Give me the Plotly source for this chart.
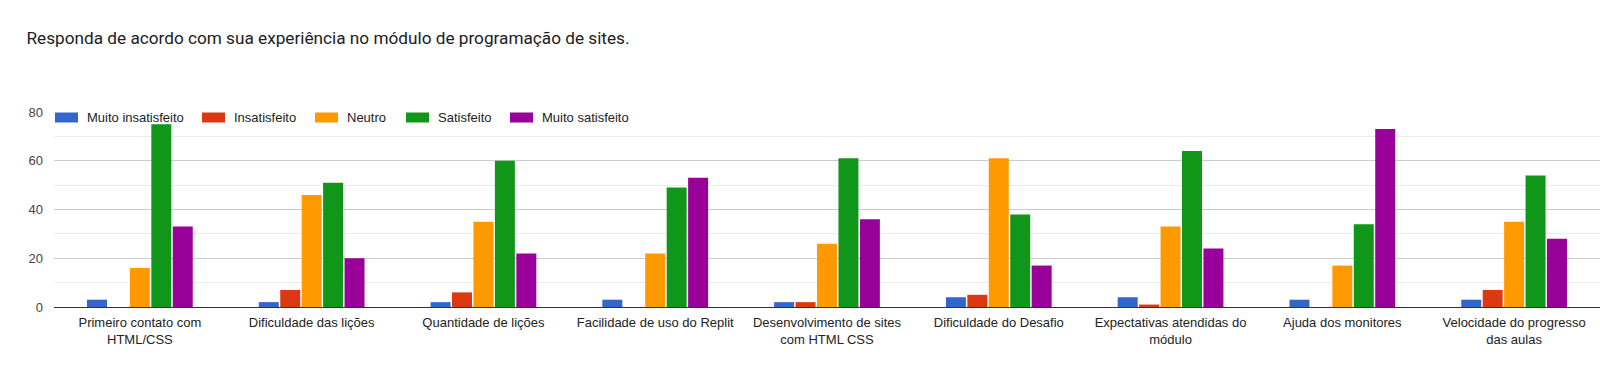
import plotly.graph_objects as go

categories = [
    "Primeiro contato com<br>HTML/CSS",
    "Dificuldade das lições",
    "Quantidade de lições",
    "Facilidade de uso do Replit",
    "Desenvolvimento de sites<br>com HTML CSS",
    "Dificuldade do Desafio",
    "Expectativas atendidas do<br>módulo",
    "Ajuda dos monitores",
    "Velocidade do progresso<br>das aulas",
]

muito_insatisfeito = [3, 2, 2, 3, 2, 4, 4, 3, 3]
insatisfeito = [0, 7, 6, 0, 2, 5, 1, 0, 7]
neutro = [16, 46, 35, 22, 26, 61, 33, 17, 35]
satisfeito = [75, 51, 60, 49, 61, 38, 64, 34, 54]
muito_satisfeito = [33, 20, 22, 53, 36, 17, 24, 73, 28]

series_names = ["Muito insatisfeito", "Insatisfeito", "Neutro", "Satisfeito", "Muito satisfeito"]
series_values = [muito_insatisfeito, insatisfeito, neutro, satisfeito, muito_satisfeito]
series_colors = ["#3366cc", "#dc3912", "#ff9900", "#109618", "#990099"]

# layout geometry (pixels)
W, H = 1600, 386
L, R, T, B = 54, 0, 112, 79
PW, PH = W - L - R, H - T - B
legend_swatch_x = [55, 202, 315, 406, 510]  # left edge of each legend swatch
SW_W, SW_H, SW_TOP = 23, 10, 112.5
TEXT_OFF = 30


def px_x(x):
    return (x - L) / PW


def px_y(y):
    return 1 - (y - T) / PH


fig = go.Figure()
for name, vals, color in zip(series_names, series_values, series_colors):
    fig.add_trace(go.Bar(
        name=name, x=categories, y=vals,
        marker=dict(color=color, line=dict(width=0)),
        showlegend=False,
    ))

shapes = []
annotations = []
for name, color, sx in zip(series_names, series_colors, legend_swatch_x):
    shapes.append(dict(
        type="rect", xref="paper", yref="paper",
        x0=px_x(sx), x1=px_x(sx + SW_W), y0=px_y(SW_TOP + SW_H), y1=px_y(SW_TOP),
        fillcolor=color, line=dict(width=0), layer="above",
    ))
    annotations.append(dict(
        text=name, xref="paper", yref="paper",
        x=px_x(sx + TEXT_OFF), y=px_y(SW_TOP + SW_H / 2),
        xanchor="left", yanchor="middle", showarrow=False,
        font=dict(family="Liberation Sans, Arial, sans-serif", size=13, color="#222222"),
    ))

fig.update_layout(
    width=W, height=H,
    margin=dict(l=L, r=R, t=T, b=B, autoexpand=False),
    paper_bgcolor="white", plot_bgcolor="white",
    font=dict(family="Liberation Sans, Arial, sans-serif", size=13, color="#222"),
    barmode="group", bargap=0.376, bargroupgap=0.068,
    title=dict(
        text="Responda de acordo com sua experiência no módulo de programação de sites.",
        font=dict(family="Roboto, sans-serif", size=17.2, color="#202124"),
        x=26.5 / W, xanchor="left", xref="container",
        y=1 - 38 / H, yanchor="middle", yref="container",
    ),
    showlegend=False,
    shapes=shapes,
    annotations=annotations,
)

fig.update_yaxes(
    range=[0, 80], tickvals=[0, 20, 40, 60, 80],
    showgrid=True, gridcolor="#cccccc", gridwidth=1,
    minor=dict(tickvals=[10, 30, 50, 70], showgrid=True, gridcolor="#ebebeb", gridwidth=1),
    zeroline=False, showline=False,
    tickfont=dict(size=13, color="#444"), ticks="", ticklabelstandoff=10,
)
fig.update_xaxes(
    showline=True, linecolor="#333333", linewidth=1,
    tickfont=dict(size=13, color="#222"), ticks="",
    tickangle=0, ticklabelstandoff=3, automargin=False,
)

fig.write_html(
    "out.html",
    config={"displayModeBar": False},
    post_script="document.body.style.margin='0';",
)
